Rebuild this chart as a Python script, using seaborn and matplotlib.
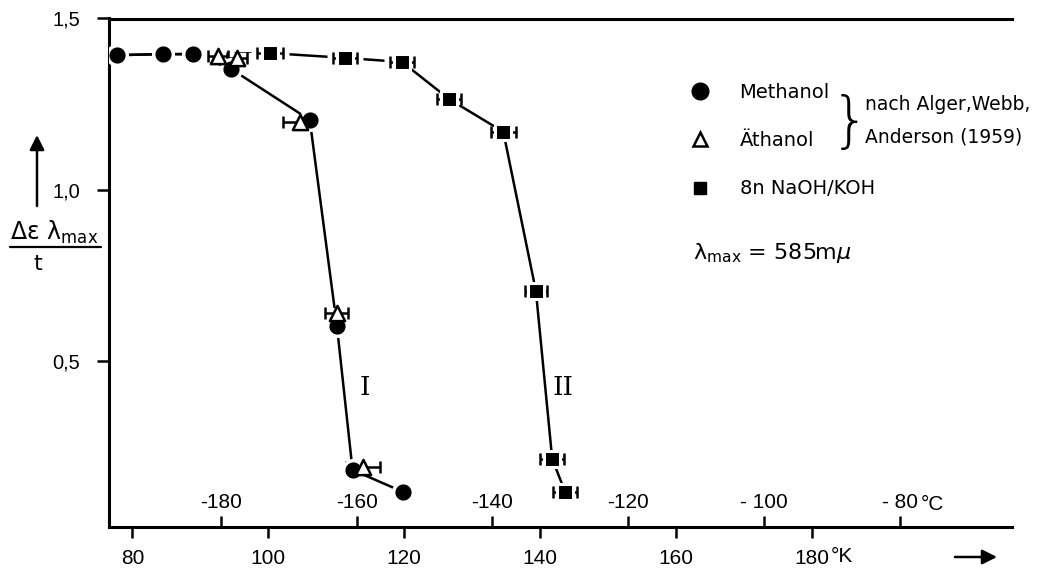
import numpy as np
import pandas as pd
import matplotlib
matplotlib.use("Agg")
import matplotlib.pyplot as plt
import seaborn as sns
from matplotlib.lines import Line2D

# Temperature (K) and extinction change per time
methanol_T = [77.7, 84.5, 88.9, 94.5, 106.1, 110.1, 112.4, 119.8]
methanol_E = [1.393, 1.396, 1.396, 1.353, 1.204, 0.602, 0.182, 0.118]

ethanol_T = [92.6, 95.4, 104.7, 110.1, 113.9]
ethanol_E = [1.390, 1.385, 1.198, 0.640, 0.190]
ethanol_dT = [1.5, 1.5, 2.5, 1.7, 2.5]

naoh_T = [100.3, 111.3, 119.7, 126.6, 134.6, 139.4, 141.8, 143.7]
naoh_E = [1.399, 1.385, 1.373, 1.265, 1.169, 0.704, 0.214, 0.118]
naoh_dT = [1.9, 1.8, 1.8, 1.8, 1.8, 1.6, 1.8, 1.8]

kelvin_ticks = [80, 100, 120, 140, 160, 180]
kelvin_labels = ["80", "100", "120", "140", "160", "180"]
celsius_ticks = [-180, -160, -140, -120, -100, -80]
celsius_labels = ["-180", "-160", "-140", "-120", "- 100", "- 80"]
y_ticks = [0.5, 1.0, 1.5]
y_labels = ["0,5", "1,0", "1,5"]

sns.set_theme(style="white")
plt.rcParams["font.family"] = ["DejaVu Sans"]
plt.rcParams["mathtext.fontset"] = "dejavusans"
for key in ("text.color", "axes.labelcolor", "xtick.color", "ytick.color",
            "axes.edgecolor"):
    plt.rcParams[key] = "black"

W, H = 1051, 569
fig = plt.figure(figsize=(W / 100, H / 100), dpi=100)


def fx(px):
    return px / W


def fy(py):
    return 1 - py / H


ax = fig.add_axes([fx(109), fy(527), fx(1012) - fx(109), fy(18.5) - fy(527)])
ax.set_xlim(76.54, 209.5)
ax.set_ylim(0.0153, 1.5)

# guide curves I and II
curve_I = pd.DataFrame({"T": methanol_T, "E": methanol_E})
curve_II = pd.DataFrame({"T": methanol_T[:3] + naoh_T, "E": methanol_E[:3] + naoh_E})
for cv in (curve_I, curve_II):
    sns.lineplot(data=cv, x="T", y="E", sort=False, estimator=None,
                 color="black", lw=1.8, ax=ax, zorder=2)

# white gaps around the error bars
ax.errorbar(naoh_T, naoh_E, xerr=np.array(naoh_dT) + 0.9, fmt="none",
            ecolor="white", elinewidth=8, zorder=3)
ax.errorbar(ethanol_T, ethanol_E, xerr=np.array(ethanol_dT) + 0.9, fmt="none",
            ecolor="white", elinewidth=8, zorder=3)

# error bars
ax.errorbar(naoh_T, naoh_E, xerr=naoh_dT, fmt="none", ecolor="black",
            elinewidth=1.8, capsize=4, capthick=1.8, zorder=4)
ax.errorbar(ethanol_T, ethanol_E, xerr=ethanol_dT, fmt="none", ecolor="black",
            elinewidth=1.8, capsize=4, capthick=1.8, zorder=4)

# markers
sns.scatterplot(x=methanol_T, y=methanol_E, marker="o", s=200, color="black",
                edgecolor="white", linewidth=2.5, ax=ax, zorder=5)
sns.scatterplot(x=ethanol_T, y=ethanol_E, marker="^", s=120, color="white",
                edgecolor="black", linewidth=1.8, ax=ax, zorder=6)
sns.scatterplot(x=naoh_T, y=naoh_E, marker="s", s=130, color="black",
                edgecolor="white", linewidth=2.2, ax=ax, zorder=6)

ax.set_xlabel("")
ax.set_ylabel("")

# spines
for side in ("left", "bottom", "top"):
    ax.spines[side].set_visible(True)
    ax.spines[side].set_linewidth(2.2)
    ax.spines[side].set_color("black")
ax.spines["right"].set_visible(False)

# Kelvin axis (below)
ax.set_xticks(kelvin_ticks, kelvin_labels)
ax.tick_params(axis="x", direction="out", length=8, width=1.8, pad=8,
               labelsize=15, bottom=True, colors="black")
ax.set_yticks(y_ticks, y_labels)
ax.tick_params(axis="y", direction="out", length=9, width=1.8, pad=12,
               labelsize=14.5, left=True, colors="black")
for lab in ax.get_xticklabels() + ax.get_yticklabels():
    lab.set_family("Liberation Sans")

# Celsius scale, ticks pointing into the plot
sec = ax.secondary_xaxis(0.0, functions=(lambda k: k - 273.0, lambda c: c + 273.0))
sec.set_alignment("top")
sec.set_xticks(celsius_ticks, labels=celsius_labels)
sec.tick_params(axis="x", direction="out", length=8, width=1.8, pad=3,
                labelsize=15, colors="black")
for lab in sec.get_xticklabels():
    lab.set_family("Liberation Sans")
for sp in sec.spines.values():
    sp.set_visible(False)

fig.text(fx(921), fy(505), "°C", fontsize=15, family="Liberation Sans", va="center")
fig.text(fx(831), fy(557), "°K", fontsize=15, family="Liberation Sans", va="center")

# curve labels
ax.text(114.2, 0.424, "I", family="DejaVu Serif", fontsize=19, ha="center", va="center")
ax.text(143.4, 0.424, "II", family="DejaVu Serif", fontsize=19, ha="center", va="center")

# legend
handles = [
    Line2D([], [], ls="none", marker="o", ms=12, color="black", label="Methanol"),
    Line2D([], [], ls="none", marker="^", ms=10, mfc="white", mec="black", mew=1.8,
           label="Äthanol"),
    Line2D([], [], ls="none", marker="s", ms=9, color="black", label="8n NaOH/KOH"),
]
ax.legend(handles=handles, loc="upper left", bbox_to_anchor=(fx(690), fy(83)),
          bbox_transform=fig.transFigure, frameon=False, fontsize=14,
          handlelength=1.0, handletextpad=1.55, labelspacing=1.5,
          borderpad=0, borderaxespad=0)

fig.text(fx(850), fy(123), "}", fontsize=44, ha="center", va="center", fontweight="light")
fig.text(fx(865), fy(105), "nach Alger,Webb,", fontsize=13.5, va="center")
fig.text(fx(865), fy(137), "Anderson (1959)", fontsize=13.5, va="center")
fig.text(fx(693), fy(253), r"$\mathrm{\lambda_{max}}$ = 585m$\mu$", fontsize=16, va="center")

# y-axis quantity written as a fraction
fig.text(fx(54), fy(232), r"$\mathrm{\Delta\varepsilon\ \lambda_{max}}$",
         fontsize=17, ha="center", va="center")
fig.add_artist(Line2D([fx(10), fx(101)], [fy(247), fy(247)], color="black",
                      lw=1.6, transform=fig.transFigure))
fig.text(fx(38), fy(264), "t", fontsize=16, ha="center", va="center")

arrow = dict(arrowstyle="-|>", color="black", lw=1.8, mutation_scale=22,
             shrinkA=0, shrinkB=0)
ax.annotate("", xy=(fx(37), fy(135)), xytext=(fx(37), fy(206)),
            xycoords="figure fraction", textcoords="figure fraction",
            arrowprops=arrow, annotation_clip=False)
ax.annotate("", xy=(fx(997), fy(557)), xytext=(fx(955), fy(557)),
            xycoords="figure fraction", textcoords="figure fraction",
            arrowprops=arrow, annotation_clip=False)

fig.savefig("out.png", dpi=100)
